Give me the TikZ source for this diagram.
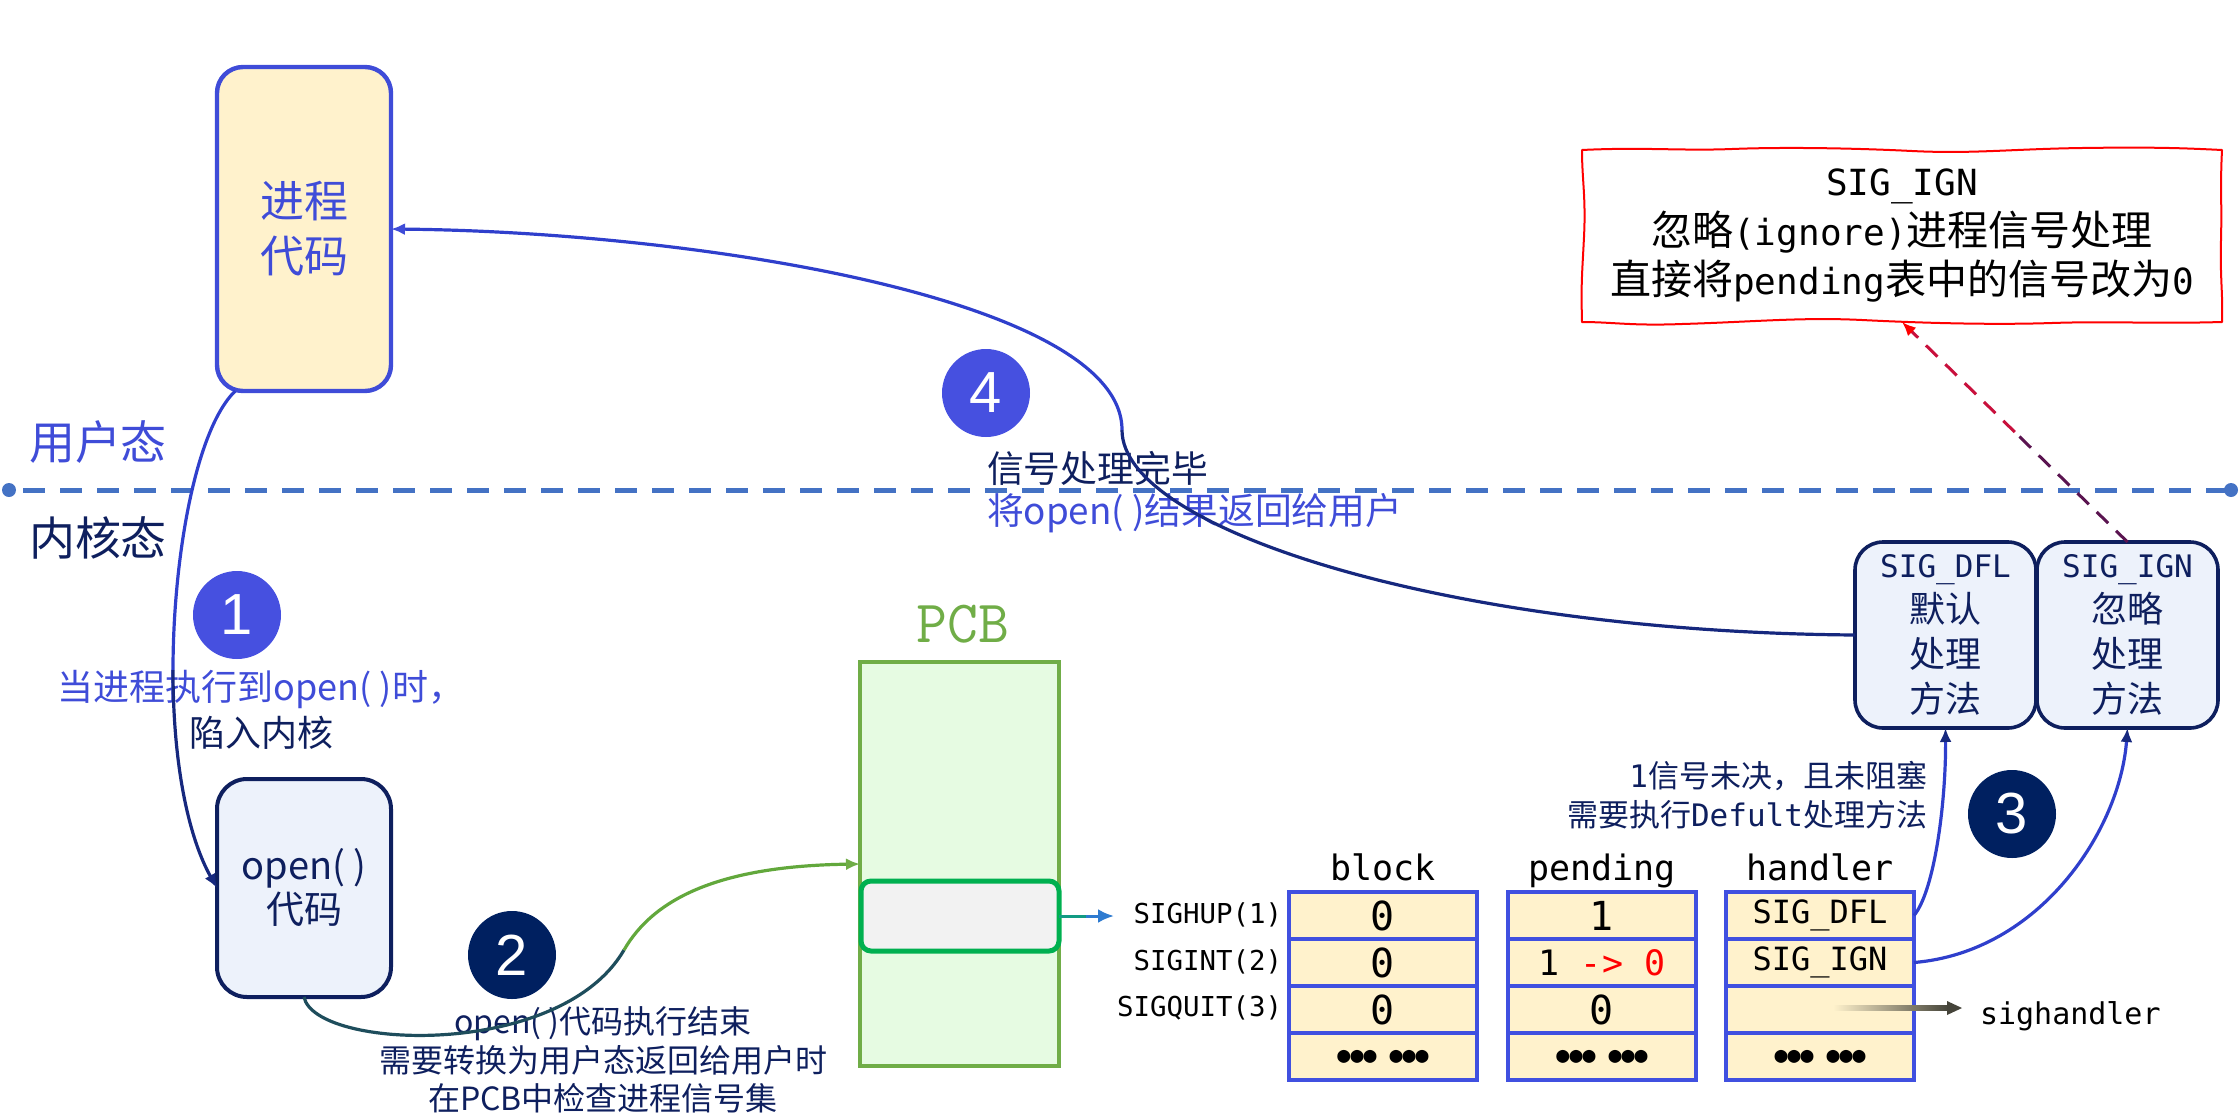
\documentclass[tikz,border=0pt]{standalone}
\usepackage{fontspec}
\setmainfont{Noto Sans CJK SC}
\newfontfamily\mono{DejaVu Sans Mono}
\newfontfamily\digf{Liberation Sans}
\usetikzlibrary{arrows.meta,calc,decorations.pathmorphing}
\definecolor{blueA}{HTML}{3F4CD8}
\definecolor{navy}{HTML}{0E1F5E}
\definecolor{navyline}{HTML}{16287E}
\definecolor{blueline}{HTML}{2F3FCC}
\definecolor{circA}{HTML}{4650E0}
\definecolor{circN}{HTML}{002060}
\definecolor{cream}{HTML}{FFF2CC}
\definecolor{lblue}{HTML}{EDF2FB}
\definecolor{pcbfill}{HTML}{E6FBE2}
\definecolor{pcbgreen}{HTML}{70AD47}
\definecolor{ingreen}{HTML}{00B050}
\definecolor{tblue}{HTML}{4050E0}
\definecolor{dashblue}{HTML}{4472C4}
\definecolor{tealdk}{HTML}{1E4D5C}
\definecolor{greenln}{HTML}{62A83C}
\definecolor{arrdark}{HTML}{45443A}
\definecolor{slotblue}{HTML}{2E7BD0}
\definecolor{purp}{HTML}{5A1450}
\definecolor{crim}{HTML}{C8103C}
\newcommand\rbm[1]{{\mono\fontsize{18}{24.75}\selectfont #1}}
\newcommand\opn{open(\kern0.22em)}
\tikzset{
  every node/.style={inner sep=0pt, outer sep=0pt},
  roundbox/.style={draw, rectangle, align=center},
  numcirc/.style={circle, minimum size=44pt, text=white, font=\digf\fontsize{29}{29}\selectfont},
  cell/.style={rectangle, draw=tblue, fill=cream, line width=1.6pt, minimum width=94pt, minimum height=23.5pt, font=\mono\fontsize{20}{20}\selectfont},
  dots/.style={font=\mono\fontsize{10.8}{10.8}\selectfont},
  colframe/.style={rectangle, draw=tblue, line width=2.2pt, minimum width=94pt, minimum height=94pt},
  siglab/.style={font=\mono\fontsize{13.7}{13.7}\selectfont, anchor=east, text=black},
  coltitle/.style={font=\mono\fontsize{17.5}{17.5}\selectfont, anchor=base, text=black},
  conn/.style={line width=1.6pt},
  wobbly/.style={red, line width=1pt, line join=round},
}
\begin{document}
\begin{tikzpicture}[x=0.5pt,y=-0.5pt]
\useasboundingbox (0,0) rectangle (2240,1120);
% separator
\coordinate (dl) at (9,490);
\coordinate (dr) at (2231,490);
\draw[dashblue, line width=2.5pt, dash pattern=on 11pt off 7.5pt, dash phase=-7pt] (dl) -- (dr);
\fill[dashblue] (dl) circle (3.5pt) (dr) circle (3.5pt);
% mode labels
\node[text=blueA, font=\fontsize{23}{23}\selectfont] (ulab) at (98,442) {用户态};
\node[text=navy, font=\fontsize{23}{23}\selectfont] (klab) at (98,538) {内核态};
% process code box
\node[roundbox, draw=blueA, fill=cream, line width=2.2pt, rounded corners=13pt, minimum width=87pt, minimum height=162pt, text=blueA, font=\fontsize{22}{27.5}\selectfont] (proc) at (304,229) {进程\\代码};
% open() box
\node[roundbox, draw=navy, fill=lblue, line width=2pt, rounded corners=15pt, minimum width=87pt, minimum height=109pt, text=navy, font=\fontsize{19}{22}\selectfont] (open) at (304,888) {\opn\\代码};
% numbered circles
\node[numcirc, fill=circA] (c1) at (237,615) {1};
\node[numcirc, fill=circN] (c2) at (512,955) {2};
\node[numcirc, fill=circN] (c3) at (2012,814) {3};
\node[numcirc, fill=circA] (c4) at (986,393) {4};
% step texts
\node[text=blueA, font=\fontsize{18}{18}\selectfont] (t1a) at (261,689) {当进程执行到\opn 时，};
\node[text=navy, font=\fontsize{18}{18}\selectfont] (t1b) at (261,733) {陷入内核};
\node[text=navy, align=center, font=\fontsize{16}{19.25}\selectfont] (t2) at (603,1060) {\opn 代码执行结束\\需要转换为用户态返回给用户时\\在PCB中检查进程信号集};
\node[anchor=west, text=navy, font=\fontsize{18.4}{18.4}\selectfont] (t4a) at (987,468) {信号处理完毕};
\node[anchor=west, text=blueA, font=\fontsize{18.4}{18.4}\selectfont] (t4b) at (987,513) {将\opn 结果返回给用户};
\node[anchor=east, align=right, text=navy, font=\fontsize{15.5}{19.5}\selectfont] (t3) at (1927,795.5) {{\mono 1}信号未决，且未阻塞\\需要执行{\mono Defult}处理方法};
% PCB
\node[text=pcbgreen, font=\ttfamily\fontsize{30}{30}\selectfont] (pcbl) at (963,624) {PCB};
\node[draw=pcbgreen, fill=pcbfill, line width=2pt, minimum width=99.5pt, minimum height=202pt] (pcb) at (959.5,864) {};
\node[draw=ingreen, fill=black!5, line width=2.5pt, rounded corners=5pt, minimum width=99pt, minimum height=35pt] (slot) at (960,916) {};
% signal row labels
\node[siglab] (s1) at (1282,915) {SIGHUP(1)};
\node[siglab] (s2) at (1282,962) {SIGINT(2)};
\node[siglab] (s3) at (1282,1008) {SIGQUIT(3)};
% table titles
\node[coltitle] (bt) at (1383,880) {block};
\node[coltitle] (pt) at (1602,880) {pending};
\node[coltitle] (ht) at (1820,880) {handler};
% block column
\node[cell] (b1) at (1383,915.5) {0};
\node[cell] (b2) at (1383,962.5) {0};
\node[cell] (b3) at (1383,1009.5) {0};
\node[cell, dots] (b4) at (1383,1056.5) {●●● ●●●};
\node[colframe] (bcol) at (1383,986) {};
% pending column
\node[cell] (p1) at (1602,915.5) {1};
\node[cell, font=\mono\fontsize{17.5}{17.5}\selectfont] (p2) at (1602,962.5) {1 \textcolor{red}{-> 0}};
\node[cell] (p3) at (1602,1009.5) {0};
\node[cell, dots] (p4) at (1602,1056.5) {●●● ●●●};
\node[colframe] (pcol) at (1602,986) {};
% handler column
\node[cell, font=\mono\fontsize{16}{16}\selectfont] (h1) at (1820,915.5) {SIG\_DFL};
\node[cell, font=\mono\fontsize{16}{16}\selectfont] (h2) at (1820,962.5) {SIG\_IGN};
\node[cell] (h3) at (1820,1009.5) {};
\node[cell, dots] (h4) at (1820,1056.5) {●●● ●●●};
\node[colframe] (hcol) at (1820,986) {};
% sighandler
\node[anchor=west, text=black, font=\mono\fontsize{15}{15}\selectfont] (sh) at (1980,1016) {sighandler};
\coordinate (sa) at (1833,1008);
\coordinate (se) at (1962,1008);
\shade[left color=cream, right color=arrdark] ($(sa)+(0,-2.5)$) rectangle ($(se)+(-13,2.5)$);
\fill[arrdark] (se) -- ++(-15,-7) -- ++(0,14) -- cycle;
% handler boxes
\node[roundbox, draw=navy, fill=lblue, line width=1.8pt, rounded corners=14pt, minimum width=90.5pt, minimum height=93pt, text=navy, font=\fontsize{18}{22.5}\selectfont] (dfl) at (1945.5,635) {{\mono\fontsize{15.5}{22.5}\selectfont SIG\_DFL}\\默认\\处理\\方法};
\node[roundbox, draw=navy, fill=lblue, line width=1.8pt, rounded corners=14pt, minimum width=90.5pt, minimum height=93pt, text=navy, font=\fontsize{18}{22.5}\selectfont] (ign) at (2127.5,635) {{\mono\fontsize{15.5}{22.5}\selectfont SIG\_IGN}\\忽略\\处理\\方法};
% red note box
\node[minimum width=320pt, minimum height=86pt, align=center, text=black, font=\fontsize{20.5}{24.75}\selectfont] (rb) at (1902,236) {\rbm{SIG\_IGN}\\忽略\rbm{(ignore)}进程信号处理\\直接将\rbm{pending}表中的信号改为\rbm{0}};
% hand-drawn border of the note
\draw[wobbly] (rb.north west)
  .. controls +(60,-3) and +(-50,2) .. ($(rb.north west)+(150,-1)$)
  .. controls +(50,-2) and +(-60,-3) .. ($(rb.north west)+(330,1)$)
  .. controls +(60,3) and +(-70,1) .. ($(rb.north west)+(500,-2)$)
  .. controls +(70,-1) and +(-40,-2) .. (rb.north east)
  .. controls +(-2,40) and +(1,-40) .. ($(rb.north east)+(-1,90)$)
  .. controls +(-1,40) and +(1,-30) .. (rb.south east)
  .. controls +(-70,2) and +(60,-2) .. ($(rb.south east)+(-170,1)$)
  .. controls +(-60,2) and +(60,3) .. ($(rb.south east)+(-360,-2)$)
  .. controls +(-60,-3) and +(70,-2) .. ($(rb.south east)+(-540,2)$)
  .. controls +(-50,2) and +(30,0) .. (rb.south west)
  .. controls +(-1,-40) and +(-2,40) .. ($(rb.south west)+(2,-85)$)
  .. controls +(2,-40) and +(0,30) .. cycle;
% connectors
% 1: process code -> open()
\coordinate (m1) at (173,670);
\draw[conn, blueline] (proc.-113) .. controls (195,430) and (173,560) .. (m1);
\draw[conn, navyline, -{Latex[length=7pt,width=6pt]}] (m1) .. controls (173,770) and (190,840) .. (open.west);
% 2: open() -> PCB
\coordinate (m2) at (624,950);
\draw[conn, tealdk] (open.south) .. controls (315,1050) and (560,1060) .. (m2);
\draw[conn, greenln, -{Latex[length=7pt,width=6pt,color=pcbgreen]}] (m2) .. controls (654,898) and (720,866) .. (pcb.west);
% slot -> table
\coordinate (sm) at (1086,916);
\coordinate (slotend) at (1114,916);
\draw[line width=1.5pt, ingreen!60!slotblue] (slot.east) -- (sm);
\draw[line width=1.5pt, slotblue, -{Latex[length=8pt,width=7pt]}] (sm) -- (slotend);
% 3: handler -> boxes
\draw[conn, blueline, -{Latex[length=7pt,width=6pt,color=navyline]}] (h1.east) .. controls (1935,890) and (1946,800) .. (dfl.south);
\draw[conn, blueline, -{Latex[length=7pt,width=6pt,color=navyline]}] (h2.east) .. controls (2040,952) and (2120,830) .. (ign.south);
% 4: SIG_DFL box -> process code
\coordinate (k4) at (1122,430);
\draw[conn, navyline] (dfl.west) .. controls (1450,632) and (1122,530) .. (k4);
\draw[conn, blueline, -{Latex[length=7pt,width=6pt,color=blueA]}] (k4) .. controls (1122,300) and (700,232) .. (proc.east);
% red dashed arrow
\coordinate (rm) at ($(ign.north)!0.5!(rb.south)$);
\draw[line width=1.5pt, purp, dash pattern=on 8pt off 5.5pt] (ign.north) -- (rm);
\draw[line width=1.5pt, crim, dash pattern=on 8pt off 5.5pt, -{Latex[length=7pt,width=6pt,color=red]}] (rm) -- (rb.south);
\end{tikzpicture}
\end{document}
